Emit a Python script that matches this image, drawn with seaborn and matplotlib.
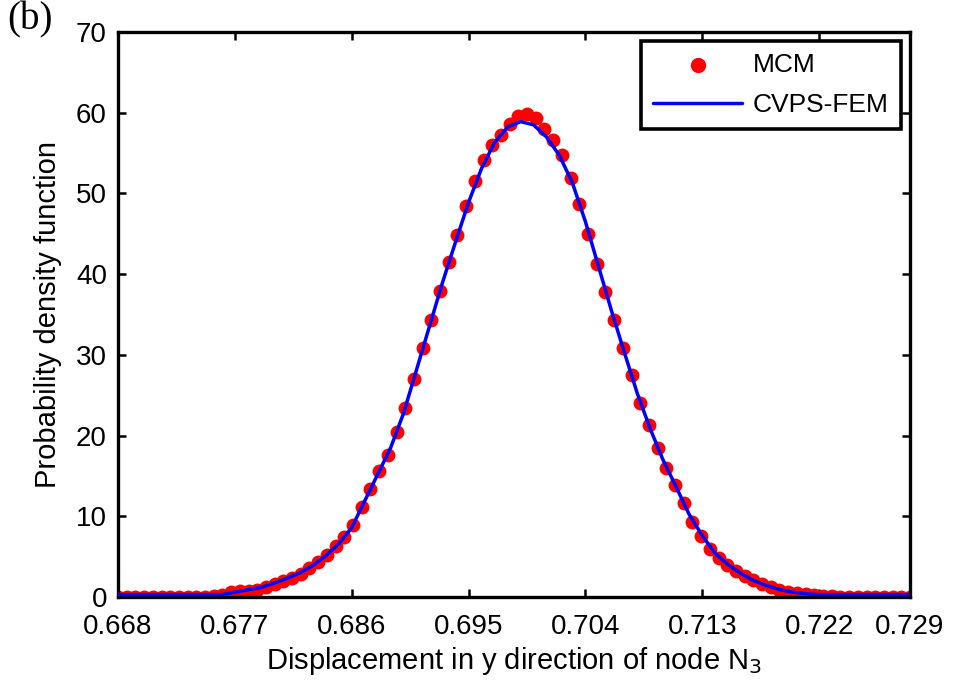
import numpy as np
import pandas as pd
import seaborn as sns
import matplotlib
matplotlib.use("Agg")
import matplotlib.pyplot as plt

# MCM histogram points, 92 evenly spaced bins
mcm_x = np.linspace(0.668, 0.729, 92)
mcm_pdf = [0.0, 0.0, 0.0, 0.0, 0.0, 0.0, 0.0, 0.0, 0.0, 0.0,
           0.05, 0.1, 0.3, 0.6, 0.7, 0.8, 0.9, 1.2, 1.6, 2.0,
           2.4, 2.8, 3.6, 4.3, 5.2, 6.3, 7.4, 8.9, 11.1, 13.4,
           15.6, 17.6, 20.4, 23.4, 27.0, 30.8, 34.3, 37.9, 41.5, 44.8,
           48.5, 51.6, 54.2, 56.0, 57.3, 58.6, 59.6, 59.9, 59.3, 58.0,
           56.6, 54.8, 51.9, 48.7, 45.0, 41.2, 37.8, 34.3, 30.8, 27.5,
           24.0, 21.3, 18.5, 16.0, 13.9, 11.6, 9.3, 7.5, 5.9, 4.8,
           4.0, 3.2, 2.6, 2.1, 1.6, 1.2, 0.9, 0.6, 0.45, 0.35,
           0.25, 0.15, 0.1, 0.05, 0.0, 0.0, 0.0, 0.0, 0.0, 0.0,
           0.0, 0.0]

# CVPS-FEM curve, step 0.001
fem_x = np.linspace(0.668, 0.729, 62)
fem_pdf = [0.3, 0.3, 0.3, 0.3, 0.3, 0.3, 0.3, 0.3, 0.3, 0.6,
           0.9, 1.2, 1.7, 2.3, 3.0, 3.9, 5.1, 6.6, 8.6, 11.9,
           15.2, 18.5, 22.8, 28.2, 33.6, 39.0, 44.0, 48.9, 53.1, 56.3,
           58.2, 58.9, 58.5, 57.0, 54.7, 51.3, 46.5, 41.0, 35.5, 30.3,
           25.2, 20.8, 16.9, 13.6, 10.2, 7.6, 5.4, 4.0, 2.9, 2.0,
           1.4, 0.9, 0.6, 0.4, 0.3, 0.3, 0.3, 0.3, 0.3, 0.3,
           0.3, 0.3]

xticks = [0.668, 0.677, 0.686, 0.695, 0.704, 0.713, 0.722, 0.729]
yticks = [0, 10, 20, 30, 40, 50, 60, 70]

mcm = pd.DataFrame({"x": mcm_x, "pdf": mcm_pdf})
fem = pd.DataFrame({"x": fem_x, "pdf": fem_pdf})

sns.set_style("ticks", {"xtick.direction": "in", "ytick.direction": "in",
                        "text.color": "black", "axes.labelcolor": "black",
                        "xtick.color": "black", "ytick.color": "black"})
plt.rcParams["font.family"] = ["Liberation Sans", "DejaVu Sans"]

fig = plt.figure(figsize=(9.54, 6.91), dpi=100)
ax = fig.add_axes([0.1237, 0.136, 0.8302, 0.8177])

sns.scatterplot(data=mcm, x="x", y="pdf", ax=ax, color="red", s=100,
                linewidth=0, label="MCM", zorder=2)
sns.lineplot(data=fem, x="x", y="pdf", ax=ax, color="blue", linewidth=2.5,
             label="CVPS-FEM", zorder=3)

ax.set_xlim(0.668, 0.729)
ax.set_ylim(0, 70)
ax.set_xticks(xticks)
ax.set_xticklabels([f"{t:.3f}" for t in xticks])
ax.set_yticks(yticks)
ax.tick_params(axis="both", which="major", labelsize=20, length=6, width=1.8,
               top=True, right=True, direction="in", colors="black")
ax.tick_params(axis="x", pad=12)
ax.tick_params(axis="y", pad=8)
for sp in ax.spines.values():
    sp.set_linewidth(2.4)
    sp.set_color("black")

ax.set_xlabel("Displacement in y direction of node N$_3$", fontsize=21, labelpad=4)
ax.set_ylabel("Probability density function", fontsize=21, labelpad=10)

leg = ax.legend(loc="upper right", fontsize=19, frameon=True, fancybox=False,
                borderaxespad=0.35, handlelength=3.4, handletextpad=0.4,
                borderpad=0.45, labelspacing=0.6, markerscale=1.1)
leg.get_frame().set_edgecolor("black")
leg.get_frame().set_linewidth(2.6)
leg.get_frame().set_alpha(1)

fig.text(0.008, 0.998, "(b)", family="Liberation Serif", fontsize=28, va="top", ha="left")

fig.savefig("out.png", dpi=100)
